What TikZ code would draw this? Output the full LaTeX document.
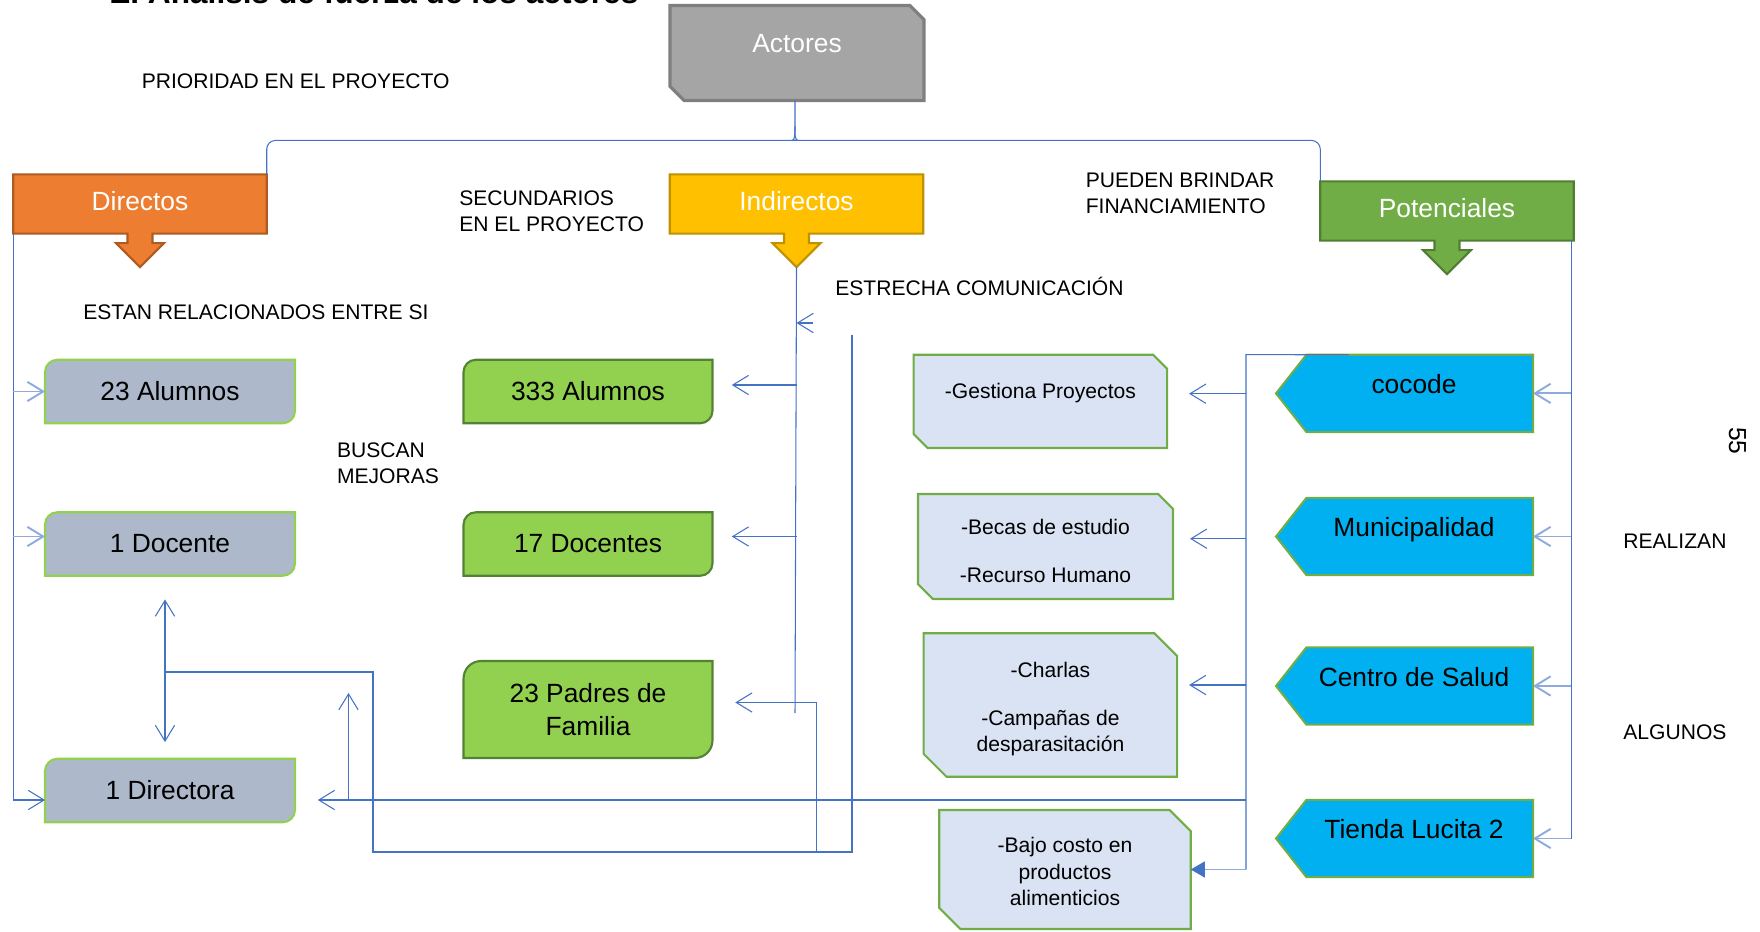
\documentclass[tikz,border=0pt]{standalone}
\usepackage{fontspec}
\setmainfont{Liberation Sans}
\usetikzlibrary{arrows.meta,calc,backgrounds}

\definecolor{azulcon}{HTML}{4472C4}
\definecolor{azulsuave}{HTML}{8FAADC}
\definecolor{grisact}{HTML}{A5A5A5}
\definecolor{grisactb}{HTML}{7F7F7F}
\definecolor{naranja}{HTML}{ED7D31}
\definecolor{naranjab}{HTML}{AE5A21}
\definecolor{amarillo}{HTML}{FFC000}
\definecolor{amarillob}{HTML}{BF9000}
\definecolor{verdepot}{HTML}{70AD47}
\definecolor{verdepotb}{HTML}{507E32}
\definecolor{grisazul}{HTML}{ADB9CA}
\definecolor{verdelima}{HTML}{92D050}
\definecolor{verdeosc}{HTML}{548235}
\definecolor{celeste}{HTML}{00B0F0}
\definecolor{azulpalido}{HTML}{DAE3F3}

\begin{document}
\begin{tikzpicture}[x=0.02cm,y=-0.02cm,
  >={Straight Barb[length=9pt,width=11pt]},
  con/.style={draw=azulcon,line width=0.6pt},
  consuave/.style={draw=azulsuave,line width=1.1pt},
  caja/.style={inner sep=0pt,outer sep=0pt,align=center,font=\fontsize{15}{18}\selectfont},
  cabeza/.style={caja,text=white,minimum width=5.07cm,text height=20.7pt,text depth=13.1pt},
  gris/.style={caja,minimum width=5cm,minimum height=1.27cm},
  lima/.style={caja,minimum width=4.98cm,minimum height=1.27cm},
  penta/.style={caja,minimum width=4.76cm,text height=22pt,text depth=22pt},
  palido/.style={caja,font=\fontsize{12}{15}\selectfont},
  etiqueta/.style={inner sep=0pt,align=left,font=\fontsize{12}{14.7}\selectfont}]
\useasboundingbox (0,0) rectangle (1760,932);

% titulo y textos sueltos
\node[inner sep=0pt,anchor=base west,font=\bfseries\fontsize{18}{20}\selectfont] (tit) at (109,4) {E. Análisis de fuerza de los actores};
\node[etiqueta,anchor=west] (prio) at (141.4,80.8) {PRIORIDAD EN EL PROYECTO};
\node[etiqueta,anchor=west] (secu) at (459,211.6) {SECUNDARIOS\\EN EL PROYECTO};
\node[etiqueta,anchor=west] (pued) at (1085.4,193.6) {PUEDEN BRINDAR\\FINANCIAMIENTO};
\node[etiqueta,anchor=base west] (estr) at (835,296) {ESTRECHA COMUNICACIÓN};
\node[etiqueta,anchor=west] (esta) at (83,312) {ESTAN RELACIONADOS ENTRE SI};
\node[etiqueta,anchor=west] (busc) at (336.7,463) {BUSCAN\\MEJORAS};
\node[etiqueta,anchor=west] (real) at (1623,541) {REALIZAN};
\node[etiqueta,anchor=west] (algu) at (1623,731.8) {ALGUNOS};
\node[inner sep=0pt,rotate=-90,font=\fontsize{14}{16}\selectfont] (pag) at (1737.5,441) {55};

% cajas
\node[caja,text=white,minimum width=5.08cm,text height=27pt,text depth=27pt] (act) at (797,53) {Actores};
\node[cabeza] (dirc) at (140,204) {Directos};
\node[cabeza] (indc) at (796.5,204) {Indirectos};
\node[cabeza] (potc) at (1447,211) {Potenciales};

\node[gris] (alu) at (170,391.5) {23 Alumnos};
\node[gris] (doc) at (170,544) {1 Docente};
\node[gris] (dira) at (170,790.5) {1 Directora};

\node[lima] (alui) at (588,391.5) {333 Alumnos};
\node[lima] (doci) at (588,544) {17 Docentes};
\node[lima,minimum height=1.94cm,font=\fontsize{15}{18.5}\selectfont] (pad) at (588,709.5) {23 Padres de\\Familia};

\node[palido,minimum width=5.07cm,text height=24.8pt,text depth=28.3pt] (ges) at (1040.4,401.4) {-Gestiona Proyectos};
\node[palido,minimum width=5.1cm,text height=50.2pt,text depth=9.6pt] (bec) at (1045.5,546.5) {-Becas de estudio\\[12pt]-Recurso Humano};
\node[palido,minimum width=5.07cm,text height=67.4pt,text depth=14.3pt] (cha) at (1050.4,705) {-Charlas\\[12pt]-Campañas de\\desparasitación};
\node[palido,minimum width=5.03cm,text height=54.3pt,text depth=13.4pt] (baj) at (1065,869.5) {-Bajo costo en\\productos\\alimenticios};

\node[penta] (coc) at (1414,393.4) {cocode};
\node[penta] (mun) at (1414,536.5) {Municipalidad};
\node[penta] (cen) at (1414,686) {Centro de Salud};
\node[penta] (tie) at (1414,838.5) {Tienda Lucita 2};

\begin{scope}[on background layer]
\draw[line width=1.8pt,draw=grisactb,fill=grisact] (act.north west) -- ([xshift=-8pt]act.north east) -- ([yshift=-8pt]act.north east) -- (act.south east) -- ([xshift=8pt]act.south west) -- ([yshift=8pt]act.south west) -- cycle;
\foreach \n/\f/\b in {dirc/naranja/naranjab,indc/amarillo/amarillob,potc/verdepot/verdepotb}
  \draw[line width=1.2pt,draw=\b,fill=\f] (\n.north west) -- (\n.north east) -- (\n.south east) -- ($(\n.south)+(12.5,0)$) -- ++(0,9.5) -- ++(11.5,0) -- ++(-24,24) -- ++(-24,-24) -- ++(11.5,0) -- ++(0,-9.5) -- (\n.south west) -- cycle;
\foreach \n in {alu,doc,dira}
  \draw[line width=1.2pt,draw=verdelima,fill=grisazul] (\n.south west) -- ([yshift=-7pt]\n.north west) arc[start angle=180,end angle=90,radius=7pt] -- (\n.north east) -- ([yshift=7pt]\n.south east) arc[start angle=0,end angle=-90,radius=7pt] -- cycle;
\foreach \n/\r in {alui/7pt,doci/7pt,pad/10pt}
  \draw[line width=1.2pt,draw=verdeosc,fill=verdelima] (\n.south west) -- ([yshift=-\r]\n.north west) arc[start angle=180,end angle=90,radius=\r] -- (\n.north east) -- ([yshift=\r]\n.south east) arc[start angle=0,end angle=-90,radius=\r] -- cycle;
\foreach \n/\c in {ges/8pt,bec/8.5pt,cha/13pt,baj/12pt}
  \draw[line width=1.2pt,draw=verdepot,fill=azulpalido] (\n.north west) -- ([xshift=-\c]\n.north east) -- ([yshift=-\c]\n.north east) -- (\n.south east) -- ([xshift=\c]\n.south west) -- ([yshift=\c]\n.south west) -- cycle;
\foreach \n in {coc,mun,cen,tie}
  \draw[line width=1.2pt,draw=verdepot,fill=celeste] (\n.north east) -- (\n.south east) -- ([xshift=6.5pt]\n.south west) -- ([xshift=-10.8pt]\n.west) -- ([xshift=6.5pt]\n.north west) -- cycle;
\end{scope}

% llave bajo Actores
\coordinate (llave) at ($(act.south)+(-2,26)$);
\draw[con,rounded corners=5pt] (dirc.north east) |- ($(llave)+(-6,14)$) to[out=0,in=-90] (llave) -- (llave |- act.south);
\draw[con,rounded corners=5pt] (llave) to[out=-90,in=180] ($(llave)+(6,14)$) -| (potc.north west);

% directos
\coordinate (alup) at (alu.west);
\coordinate (docp) at ($(doc.west)+(0,-7.5)$);
\coordinate (dirp) at ($(dira.west)+(0,9.5)$);
\coordinate (dirpe) at ($(dira.east)+(0,9.5)$);
\draw[con,->] (dirc.south west) |- (dirp);
\draw[consuave,->] (dirc.south west |- alup) -- (alup);
\draw[consuave,->] (dirc.south west |- docp) -- (docp);

% indirectos
\coordinate (indp) at ($(indc.south)+(0,33.5)$);
\coordinate (finind) at (795,713);
\coordinate (estp) at (813,323);
\coordinate (aluip) at ($(alui.east)+(0,-6.5)$);
\coordinate (docip) at ($(doci.east)+(0,-7.5)$);
\coordinate (padp) at ($(pad.east)+(0,-7)$);
\draw[con] (indp) -- (finind);
\draw[con,->] (estp) -- (indp |- estp);
\draw[con,->,shorten >=11pt] (indp |- aluip) -- (aluip);
\draw[con,->,shorten >=11pt] (indp |- docip) -- (docip);

% lazo inferior
\coordinate (vsup) at (852,334.5);
\coordinate (vinf) at (852,852);
\coordinate (izq) at (373,852);
\coordinate (cruce) at (165,672);
\coordinate (codo) at (816.5,852);
\draw[con] (vsup) -- (vinf) -- (izq) |- (cruce);
\draw[con,->,shorten >=13pt] (codo) |- (padp);
\draw[con,<->,shorten <=13.5pt,shorten >=9.5pt] (doc.south -| cruce) -- (dira.north -| cruce);
\coordinate (subeb) at (348.5,800);
\coordinate (subet) at (348.5,693);
\draw[con,->] (subeb) -- (subet);

% potenciales hacia lo que realizan
\coordinate (dsup) at ($(coc.north west)+(53.5,0)$);
\coordinate (tder) at (1246,354.7);
\coordinate (gesp) at ($(ges.east)+(0,-7.7)$);
\coordinate (becp) at ($(bec.east)+(0,-7.8)$);
\coordinate (chap) at ($(cha.east)+(0,-20)$);
\draw[con] (dsup) -- (tder) -- (tder |- baj.east);
\draw[con,->,shorten >=13pt] (tder |- dirpe) -- (dirpe);
\draw[con,->,shorten >=12.5pt] (tder |- gesp) -- (gesp);
\draw[con,->,shorten >=9.7pt] (tder |- becp) -- (becp);
\draw[con,->,shorten >=6.8pt] (tder |- chap) -- (chap);
\draw[consuave,arrows=-{Triangle[length=8pt,width=9pt,color=azulcon]}] (tder |- baj.east) -- (baj.east);

\coordinate (ptop) at ($(potc.south east)+(-2.5,0)$);
\draw[con] (ptop) -- (ptop |- tie.east);
\foreach \n in {coc,mun,cen,tie}
  \draw[consuave,->] (ptop |- \n.east) -- (\n.east);

\end{tikzpicture}
\end{document}
